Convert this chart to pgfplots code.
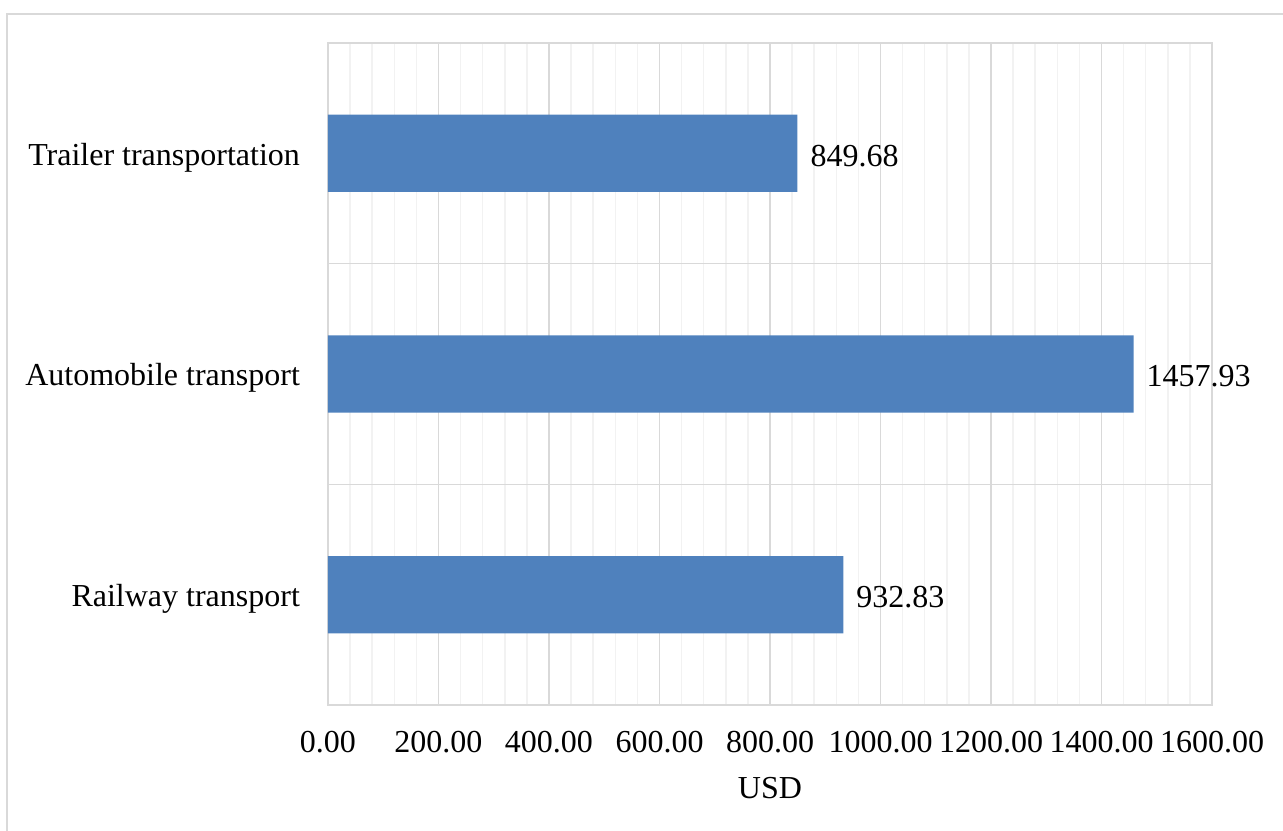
\documentclass[border=0pt]{standalone}
\usepackage{fontspec}
\setmainfont{Liberation Serif}
\usepackage{pgfplots}
\pgfplotsset{compat=1.18}
\definecolor{barblue}{HTML}{4F81BD}
\definecolor{gridmaj}{HTML}{D9D9D9}
\definecolor{gridmin}{HTML}{F2F2F2}
\newcommand{\lbl}{\fontsize{16}{19}\selectfont}
\begin{document}
\begin{tikzpicture}
\useasboundingbox (-164pt,-62.5pt) rectangle (477.5pt,352.5pt);
\draw[gridmaj, line width=1pt] (-160.5pt,-80pt) -- (-160.5pt,345.5pt) -- (490pt,345.5pt);
\begin{axis}[
 at={(0,0)}, anchor=south west,
 scale only axis, width=442pt, height=331pt,
 xbar, bar width=0.35,
 xmin=0, xmax=1600, ymin=-0.5, ymax=2.5,
 xtick={0,200,...,1600}, minor x tick num=4,
 ytick={0,1,2}, yticklabels={Railway transport, Automobile transport, Trailer transportation},
 xmajorgrids, xminorgrids,
 major grid style={gridmaj, line width=0.75pt}, minor grid style={gridmin, line width=0.75pt},
 extra y ticks={0.5,1.5}, extra y tick labels={},
 extra y tick style={grid=major, major grid style={gridmaj, line width=0.75pt}},
 major tick length=0pt, minor tick length=0pt,
 axis line style={gridmaj, line width=0.75pt},
 tick label style={font=\lbl},
 /pgf/number format/1000 sep={},
 /pgf/number format/assume math mode=true,
 x tick label style={yshift=-9.5pt, /pgf/number format/.cd, fixed, fixed zerofill, precision=2, 1000 sep={}},
 y tick label style={xshift=-10.5pt, yshift=-2pt},
 xlabel={USD},
 every axis x label/.style={at={(axis description cs:0.5,0)}, anchor=north, yshift=-32.5pt, font=\lbl},
 nodes near coords={\pgfmathprintnumber[fixed,fixed zerofill,precision=2,1000 sep={}]{\pgfplotspointmeta}},
 nodes near coords style={font=\lbl, xshift=3pt, yshift=-1.2pt, black},
]
\addplot[fill=barblue, draw=none] coordinates {(932.83,0) (1457.93,1) (849.68,2)};
\end{axis}
\end{tikzpicture}
\end{document}
